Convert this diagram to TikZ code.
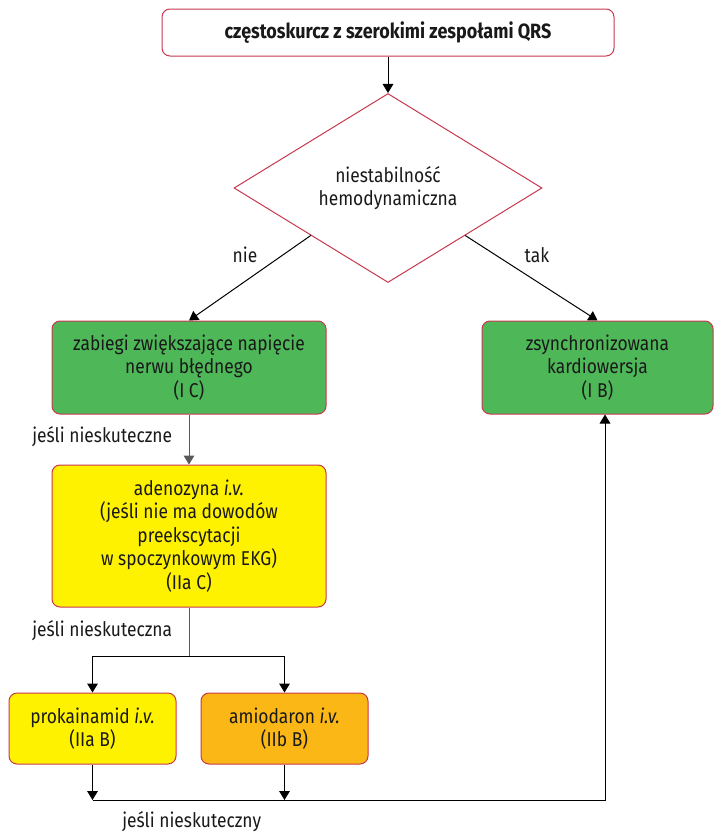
\documentclass[tikz,border=0pt]{standalone}
\usepackage{fontspec}
\setmainfont[FakeStretch=0.87]{Fira Sans}
\usetikzlibrary{shapes.geometric,arrows.meta}
\definecolor{boxred}{RGB}{200,56,78}
\definecolor{boxgreen}{RGB}{78,184,89}
\definecolor{boxyellow}{RGB}{255,242,0}
\definecolor{boxorange}{RGB}{251,183,21}
\definecolor{txt}{RGB}{25,25,25}

\begin{document}
\begin{tikzpicture}[x=0.75pt,y=-0.75pt]
\tikzstyle{every node}+=[inner sep=0pt,text=txt,font=\fontsize{15}{17.6}\selectfont]
\tikzstyle{box}=[draw=boxred,line width=0.75pt,rounded corners=6pt,align=center]
\tikzstyle{arr}=[line width=0.75pt,-{Triangle[length=6.75pt,width=8pt]}]
\tikzstyle{lin}=[line width=0.75pt]
\useasboundingbox (0,0) rectangle (714,836);
\node[box,fill=white,minimum width=339pt,minimum height=35.25pt,font=\fontsize{15.5}{17.6}\selectfont\bfseries] (qrs) at (388,32.5) {częstoskurcz z szerokimi zespołami QRS};
\node[diamond,draw=boxred,line width=0.75pt,align=center,minimum width=231pt,minimum height=141.75pt] (niest) at (388,188) {niestabilność\\hemodynamiczna};
\node[box,fill=boxgreen,minimum width=205.5pt,minimum height=69.75pt] (nerw) at (189,367.5) {zabiegi zwiększające napięcie\\nerwu błędnego\\(I C)};
\node[box,fill=boxgreen,minimum width=173.25pt,minimum height=69.75pt] (kardio) at (597.5,367.5) {zsynchronizowana\\kardiowersja\\(I B)};
\node[box,fill=boxyellow,minimum width=205.5pt,minimum height=106.5pt] (adeno) at (189,536) {adenozyna \textit{i.v.}\\(jeśli nie ma dowodów\\preekscytacji\\w spoczynkowym EKG)\\(IIa C)};
\node[box,fill=boxyellow,minimum width=125.25pt,minimum height=53.25pt] (proka) at (92.5,728.5) {prokainamid \textit{i.v.}\\(IIa B)};
\node[box,fill=boxorange,minimum width=125.25pt,minimum height=53.25pt] (amio) at (284.5,728.5) {amiodaron \textit{i.v.}\\(IIb B)};
% etykiety
\node (nie) at (245,255) {nie};
\node (tak) at (537,255) {tak};
\node[anchor=west] (nsk1) at (32,437) {jeśli nieskuteczne};
\node[anchor=west] (nsk2) at (32,631) {jeśli nieskuteczna};
\node[anchor=west] (nsk3) at (122,822) {jeśli nieskuteczny};
\coordinate (split) at (189,656);
\coordinate (corner) at (605,800);
% strzalki
\draw[arr] (qrs) -- (niest);
\draw[arr] (niest.south west) -- (nerw.north);
\draw[arr] (niest.south east) -- (kardio.north);
\draw[arr,draw=black!65] (nerw) -- (adeno);
\draw[lin,draw=black!65] (adeno) -- (split);
\draw[arr] (split) -| (proka);
\draw[arr] (split) -| (amio);
\draw[arr] (proka) -- (proka |- corner);
\draw[arr] (amio) -- (amio |- corner);
\draw[arr] (proka |- corner) -- (corner) -- (corner |- kardio.south);
\end{tikzpicture}
\end{document}
